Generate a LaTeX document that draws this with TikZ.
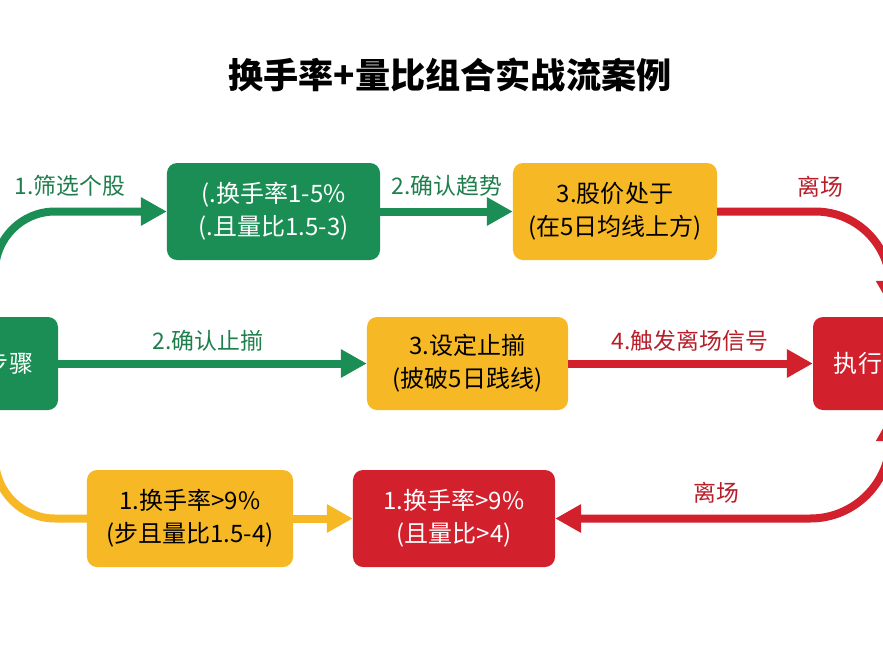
\documentclass[tikz,border=0pt]{standalone}
\usepackage{fontspec}
\setmainfont{Noto Sans CJK SC}
\usetikzlibrary{arrows.meta}

\definecolor{stgreen}{HTML}{1B8E55}
\definecolor{stgreentxt}{HTML}{1E7F4C}
\definecolor{styellow}{HTML}{F6B925}
\definecolor{stred}{HTML}{D2202D}
\definecolor{stredtxt}{HTML}{B81E2A}

\begin{document}
\begin{tikzpicture}[
  x=0.03cm, y=-0.03cm,
  >={Triangle[length=0.78cm,width=0.81cm]},
  box/.style  = {rounded corners=0.3cm, align=center, inner sep=0pt,
                 font=\fontsize{20.5}{28}\selectfont},
  gbox/.style = {box, fill=stgreen, text=white},
  ybox/.style = {box, fill=styellow, text=black},
  rbox/.style = {box, fill=stred, text=white},
  arr/.style  = {line width=0.24cm},
  garr/.style = {arr, stgreen},
  yarr/.style = {arr, styellow},
  rarr/.style = {arr, stred},
  glbl/.style = {font=\fontsize{19.5}{24}\selectfont, text=stgreentxt},
  rlbl/.style = {font=\fontsize{19.5}{24}\selectfont, text=stredtxt},
  ttl/.style  = {font=\fontsize{30}{36}\selectfont\bfseries},
]
\useasboundingbox (0,0) rectangle (883,662);
\clip (0,0) rectangle (883,662);
\fill[white] (0,0) rectangle (883,662);

%% title
\node[ttl] (title) at (450,75) {换手率+量比组合实战流案例};

%% boxes
\node[gbox, minimum width=6.39cm, minimum height=2.91cm] (scr) at (273.5,211.5)
  {(.换手率1-5\%\\(.且量比1.5-3)};
\node[ybox, minimum width=6.12cm, minimum height=2.91cm] (trd) at (615,211.5)
  {3.股价处于\\(在5日均线上方)};
\node[gbox, minimum width=2.94cm, minimum height=2.79cm] (stp) at (9,363.5)
  {步骤};
\node[ybox, minimum width=6.03cm, minimum height=2.79cm] (sl) at (467.5,363.5)
  {3.设定止揃\\(披破5日践线)};
\node[rbox, minimum width=2.70cm, minimum height=2.79cm] (exe) at (858,363.5)
  {执行};
\node[ybox, minimum width=6.18cm, minimum height=2.91cm] (hi) at (190,518.5)
  {1.换手率>9\%\\(步且量比1.5-4)};
\node[rbox, minimum width=6.06cm, minimum height=2.91cm] (hot) at (454,518.5)
  {1.换手率>9\%\\(且量比>4)};

%% free ends on the left edge
\coordinate (gin) at (-5,330);
\coordinate (yin) at (-5,400);

%% top row
\draw[garr, ->, rounded corners=1.8cm] (gin) |- (scr.west);
\draw[garr, ->] (scr.east) -- (trd.west);
\draw[rarr, ->, rounded corners=2.25cm] (trd.east)
  -| ([xshift=-0.39cm,yshift=0.3cm]exe.north east);

%% middle row
\draw[garr, ->] (stp.east) -- (sl.west);
\draw[rarr, ->] (sl.east) -- (exe.west);

%% bottom row
\draw[yarr, rounded corners=1.8cm] (yin) |- (hi.west);
\draw[yarr, ->] (hi.east) -- (hot.west);
\draw[rarr, <->, rounded corners=2.4cm]
  ([xshift=-0.39cm,yshift=-0.15cm]exe.south east) |- (hot.east);

%% labels
\node[glbl] (l1) at (70,186)  {1.筛选个股};
\node[glbl] (l2) at (447,186) {2.确认趋势};
\node[rlbl] (l3) at (820,187) {离场};
\node[glbl] (l4) at (208,341) {2.确认止揃};
\node[rlbl] (l5) at (690,341) {4.触发离场信号};
\node[rlbl] (l6) at (716,493) {离场};

\end{tikzpicture}
\end{document}
